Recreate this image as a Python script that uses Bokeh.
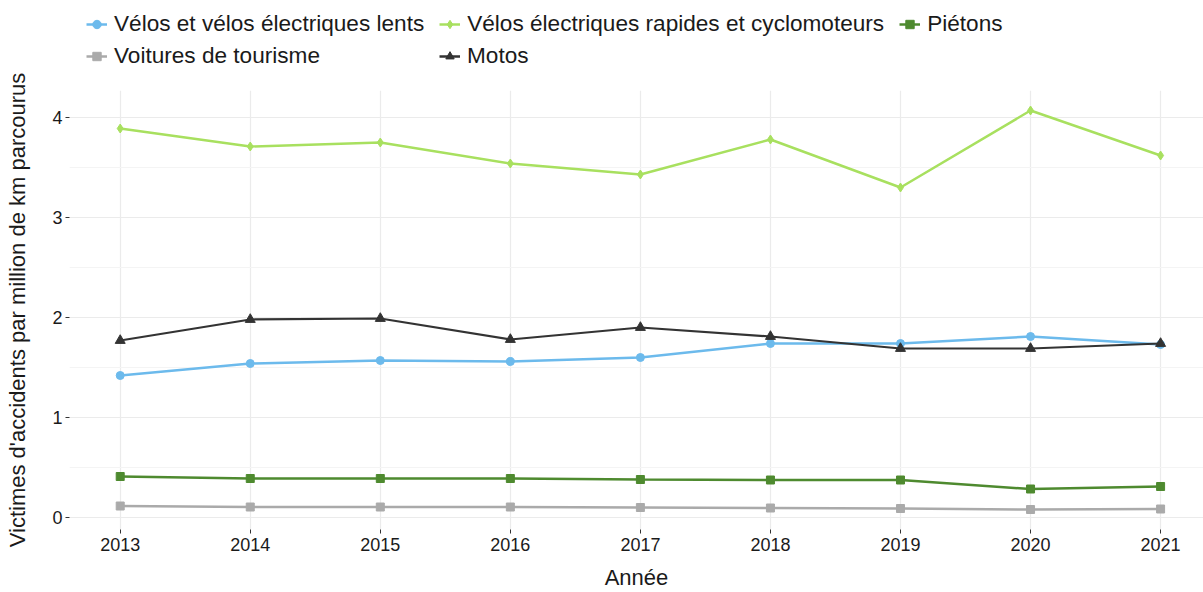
from bokeh.plotting import figure
from bokeh.models import Legend, LegendItem, FixedTicker, Range1d
from bokeh.layouts import column
from bokeh.embed import file_html
from bokeh.resources import INLINE

years = [2013, 2014, 2015, 2016, 2017, 2018, 2019, 2020, 2021]
velos_lents = [1.42, 1.54, 1.57, 1.56, 1.60, 1.74, 1.74, 1.81, 1.73]
velos_rapides = [3.89, 3.71, 3.75, 3.54, 3.43, 3.78, 3.30, 4.07, 3.62]
pietons = [0.41, 0.39, 0.39, 0.39, 0.38, 0.375, 0.375, 0.285, 0.31]
voitures = [0.115, 0.105, 0.105, 0.105, 0.10, 0.095, 0.09, 0.08, 0.085]
motos = [1.77, 1.98, 1.99, 1.78, 1.90, 1.81, 1.69, 1.69, 1.74]

names = ["Vélos et vélos électriques lents", "Vélos électriques rapides et cyclomoteurs",
         "Piétons", "Voitures de tourisme", "Motos"]

FONT = "Liberation Sans"

series = [
    (velos_lents, "#6cbaec", "circle", 8, 2.5),
    (velos_rapides, "#a8e05f", "diamond", 9, 2.5),
    (pietons, "#4e8a2f", "square", 8, 2.5),
    (voitures, "#aaaaaa", "square", 8, 2.5),
    (motos, "#333333", "triangle", 10, 2.2),
]

# legend strip (its own small figure above the chart)
lf = figure(width=1203, height=68, output_backend="svg", toolbar_location=None,
            x_range=Range1d(0, 1), y_range=Range1d(0, 1),
            min_border=0, x_axis_type=None, y_axis_type=None)
lf.outline_line_color = None
lf.xgrid.visible = False
lf.ygrid.visible = False

items = []
for (vals, col, mk, sz, lw), name in zip(series, names):
    r1 = lf.line([-10, -9], [-10, -9], line_color=col, line_width=2.5)
    r2 = lf.scatter([-10, -9], [-10, -9], marker=mk, size=sz - 2, fill_color=col, line_color=col)
    items.append(LegendItem(label=name, renderers=[r1, r2]))

common = dict(orientation="horizontal", label_text_font=FONT, label_text_font_size="22.6px",
              label_text_color="#1a1a1a", glyph_width=21, glyph_height=24, label_standoff=7,
              spacing=15, padding=0, margin=0, border_line_color=None,
              background_fill_alpha=0, label_height=24)
leg1 = Legend(items=items[:3], location=(17, 31), **common)
leg2 = Legend(items=items[3:], location=(17, -1), label_width=310, **common)
lf.add_layout(leg1, "center")
lf.add_layout(leg2, "center")

# main plot
p = figure(width=1203, height=524, output_backend="svg", toolbar_location=None,
           x_range=Range1d(2012.61, 2021.33), y_range=Range1d(-0.12, 4.27),
           min_border_left=69, min_border_right=0, min_border_top=22, min_border_bottom=62)
p.outline_line_color = None
p.background_fill_color = "white"

for (vals, col, mk, sz, lw), name in zip(series, names):
    p.line(years, vals, line_color=col, line_width=lw)
    p.scatter(years, vals, marker=mk, size=sz, fill_color=col, line_color=col)

p.xaxis.ticker = FixedTicker(ticks=years)
p.yaxis.ticker = FixedTicker(ticks=[0, 1, 2, 3, 4], minor_ticks=[0.5, 1.5, 2.5, 3.5])

for ax in (p.xaxis, p.yaxis):
    ax.axis_line_color = None
    ax.major_tick_line_color = "#333333"
    ax.major_tick_out = 4
    ax.major_tick_in = 0
    ax.minor_tick_line_color = None
    ax.major_label_text_font = FONT
    ax.major_label_text_font_size = "18px"
    ax.major_label_text_color = "#1a1a1a"
    ax.axis_label_text_font = FONT
    ax.axis_label_text_font_size = "22px"
    ax.axis_label_text_font_style = "normal"
    ax.axis_label_text_color = "#1a1a1a"

p.xaxis.axis_label = "Année"
p.yaxis.axis_label = "Victimes d'accidents par million de km parcourus"
p.xaxis.major_label_standoff = 4
p.xaxis.axis_label_standoff = 11
p.yaxis.major_label_standoff = 3
p.yaxis.axis_label_standoff = 19

p.xgrid.grid_line_color = "#ebebeb"
p.xgrid.grid_line_width = 1.2
p.ygrid.grid_line_color = "#ebebeb"
p.ygrid.grid_line_width = 1.2
p.ygrid.minor_grid_line_color = "#f4f4f4"
p.ygrid.minor_grid_line_width = 1

layout = column(lf, p, spacing=0)
open("out.html", "w").write(file_html(layout, INLINE))
